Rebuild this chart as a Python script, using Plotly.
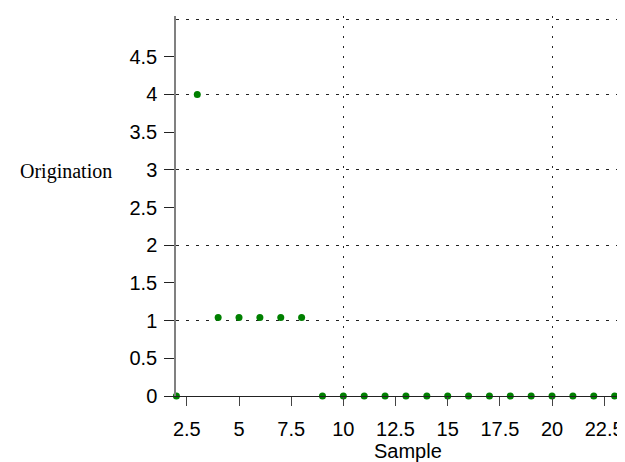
import plotly.graph_objects as go

sample = list(range(2, 25))
origination = [0, 4, 1.04, 1.04, 1.04, 1.04, 1.04] + [0] * 16

x_ticks = [2.5, 5, 7.5, 10, 12.5, 15, 17.5, 20, 22.5]
x_tick_text = ["2.5", "5", "7.5", "10", "12.5", "15", "17.5", "20", "22.5"]
y_ticks = [0, 0.5, 1, 1.5, 2, 2.5, 3, 3.5, 4, 4.5]
y_tick_text = ["0", "0.5", "1", "1.5", "2", "2.5", "3", "3.5", "4", "4.5"]
x_grid = [10, 20]
y_grid = [1, 2, 3, 4, 5]

x_range = [1.98, 23.88]
y_range = [0, 5.04]

fig = go.Figure()
# helper (invisible) trace so the grid overlay axes are drawn
fig.add_trace(go.Scatter(x=sample, y=origination, xaxis="x2", yaxis="y2",
                         mode="markers", marker=dict(opacity=0), hoverinfo="skip",
                         showlegend=False))
fig.add_trace(go.Scatter(x=sample, y=origination, mode="markers",
                         marker=dict(color="#008000", size=7),
                         cliponaxis=False, showlegend=False))

font_sans = "Liberation Sans, Arial, sans-serif"
fig.update_layout(
    width=625, height=462,
    margin=dict(l=168, r=0, t=8, b=74),
    paper_bgcolor="white", plot_bgcolor="white",
    font=dict(family=font_sans, size=20, color="black"),
    xaxis=dict(range=x_range, tickmode="array", tickvals=x_ticks, ticktext=x_tick_text,
               showgrid=False, zeroline=False, showline=True, linecolor="#222222",
               linewidth=1, ticks="outside", ticklen=9, tickcolor="#444444",
               ticklabelstandoff=6),
    yaxis=dict(range=y_range, tickmode="array", tickvals=y_ticks, ticktext=y_tick_text,
               showgrid=False, zeroline=False, showline=True, linecolor="#808080",
               linewidth=1.5, ticks="outside", ticklen=10, tickcolor="#222222",
               ticklabelstandoff=3),
    xaxis2=dict(range=x_range, overlaying="x", tickmode="array", tickvals=x_grid,
                showgrid=True, gridcolor="#222222", griddash="2px,8px", gridwidth=1,
                showticklabels=False, ticks="", zeroline=False, showline=False),
    yaxis2=dict(range=y_range, overlaying="y", tickmode="array", tickvals=y_grid,
                showgrid=True, gridcolor="#222222", griddash="3px,7px", gridwidth=1,
                showticklabels=False, ticks="", zeroline=False, showline=False),
    annotations=[
        dict(text="Origination", xref="paper", yref="paper",
             x=-0.345, y=0.59, xanchor="left", yanchor="middle",
             showarrow=False,
             font=dict(family="Liberation Serif, Times New Roman, serif",
                       size=20, color="black")),
        dict(text="Sample", xref="paper", yref="paper",
             x=0.507, y=-0.145, xanchor="center", yanchor="middle",
             showarrow=False, font=dict(family=font_sans, size=20, color="black")),
    ],
)

fig.write_html("out.html")
